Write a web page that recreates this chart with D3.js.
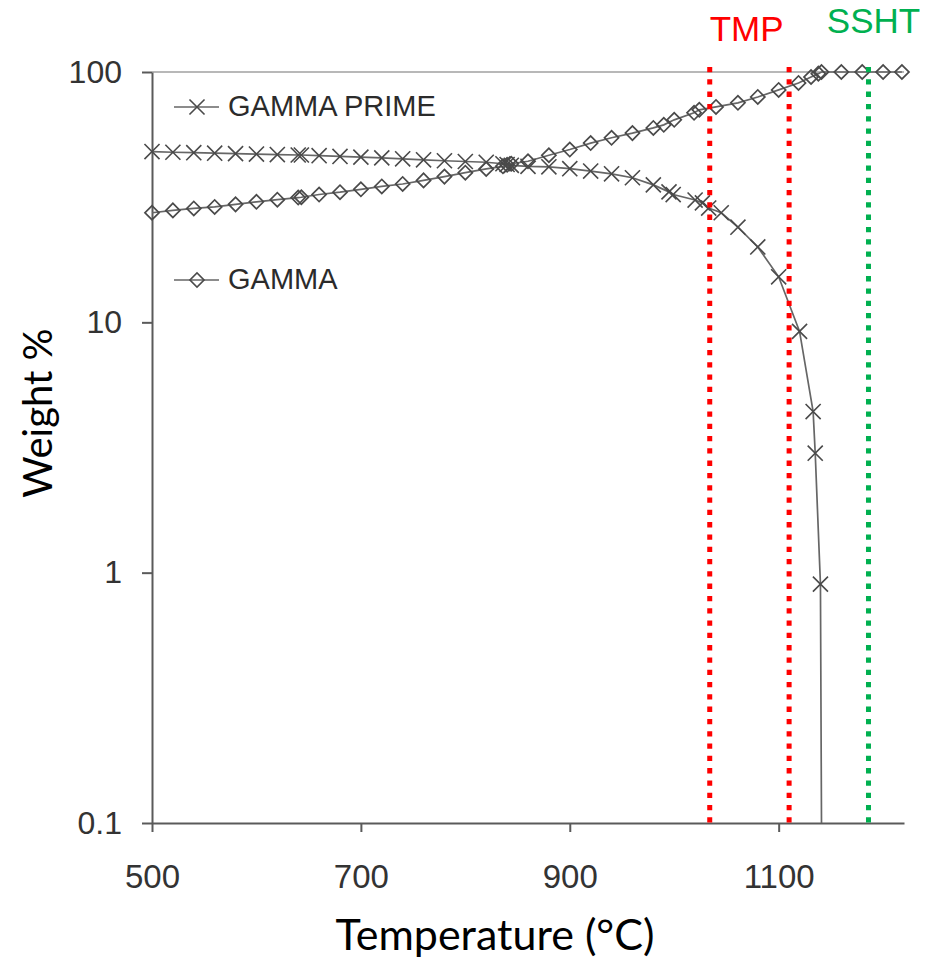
<!DOCTYPE html>
<html>
<head>
<meta charset="utf-8">
<script src="https://cdn.jsdelivr.net/npm/d3@7"></script>
<style>
  body { margin: 0; background: #fff; }
  svg { display: block; }
</style>
</head>
<body>
<svg id="chart"></svg>
<script>
// gamma prime (x markers)
const gpTemp = [500, 520, 540, 560, 580, 600, 620, 640, 643, 660, 680, 700, 720, 740, 760, 780, 800, 820, 836, 840, 844, 860, 880, 900, 920, 940, 960, 980, 995, 999, 1020, 1027, 1033, 1045, 1061, 1080, 1100, 1120, 1133, 1135, 1140, 1141];
const gpVal = [48.1, 47.8, 47.6, 47.4, 47.2, 47.0, 46.8, 46.6, 46.6, 46.3, 46.0, 45.7, 45.4, 45.0, 44.6, 44.2, 43.9, 43.6, 43.0, 42.7, 42.4, 42.0, 41.8, 41.1, 40.2, 39.2, 37.8, 35.4, 33.2, 32.4, 30.8, 30.0, 28.6, 27.4, 24.0, 20.0, 15.2, 9.2, 4.4, 3.0, 0.9, 0.1];
// last point of gamma prime is only the line end, no marker
const gpMarkerCount = gpTemp.length - 1;

// gamma (diamond markers)
const gTemp = [500, 520, 540, 560, 580, 600, 620, 640, 643, 660, 680, 700, 720, 740, 760, 780, 800, 820, 836, 840, 844, 860, 880, 900, 920, 940, 960, 980, 990, 1000, 1019, 1024, 1040, 1061, 1080, 1100, 1119, 1131, 1138, 1141, 1160, 1180, 1200, 1218];
const gVal = [27.4, 28.0, 28.5, 28.9, 29.6, 30.3, 30.9, 31.5, 31.6, 32.4, 33.1, 34.0, 34.9, 35.7, 36.9, 38.2, 39.6, 41.0, 42.0, 42.6, 43.0, 44.0, 46.5, 49.0, 52.0, 54.6, 57.0, 59.8, 61.5, 64.4, 68.7, 70.6, 72.5, 75.3, 79.5, 84.8, 90.4, 95.5, 98.5, 100, 100, 100, 100, 100];

const xTicks = [500, 700, 900, 1100];
const yTicks = [0.1, 1, 10, 100];
const tmpTemps = [1034, 1110];
const sshtTemp = 1186;

const width = 928, height = 961;
const x = d3.scaleLinear().domain([500, 1220]).range([152, 904]);
const y = d3.scaleLog().domain([0.1, 100]).range([823, 72]);

const svg = d3.select("#chart").attr("width", width).attr("height", height);

svg.append("defs").append("clipPath").attr("id", "plot")
  .append("rect")
  .attr("x", x(500) - 10).attr("y", y(100) - 10)
  .attr("width", x(1220) - x(500) + 30).attr("height", y(0.1) - y(100) + 10);

// top frame line
svg.append("line")
  .attr("x1", x(500)).attr("x2", x(1220))
  .attr("y1", y(100)).attr("y2", y(100))
  .attr("stroke", "#b8b8b8").attr("stroke-width", 2);

// axes
const xAxis = svg.append("g")
  .attr("transform", `translate(0,${y(0.1)})`)
  .call(d3.axisBottom(x).tickValues(xTicks).tickSize(9).tickSizeOuter(0).tickPadding(33).tickFormat(d3.format("d")));
const yAxis = svg.append("g")
  .attr("transform", `translate(${x(500)},0)`)
  .call(d3.axisLeft(y).tickValues(yTicks).tickSize(10).tickSizeOuter(0).tickPadding(20).tickFormat(d => String(d)));

[xAxis, yAxis].forEach(a => {
  a.select(".domain").attr("stroke", "#5a5a5a").attr("stroke-width", 2);
  a.selectAll(".tick line").attr("stroke", "#5a5a5a").attr("stroke-width", 2);
  a.selectAll(".tick text")
    .attr("fill", "#333")
    .style("font-family", "'Liberation Sans', Arial, sans-serif");
});
xAxis.selectAll(".tick text").style("font-size", "33px");
yAxis.selectAll(".tick text").style("font-size", "32px");

// series lines
const line = d3.line().x(d => x(d[0])).y(d => y(d[1]));
const gpData = gpTemp.map((t, i) => [t, gpVal[i]]);
const gData = gTemp.map((t, i) => [t, gVal[i]]);

const plot = svg.append("g").attr("clip-path", "url(#plot)");
plot.append("path").datum(gpData).attr("d", line)
  .attr("fill", "none").attr("stroke", "#666").attr("stroke-width", 1.7);
plot.append("path").datum(gData).attr("d", line)
  .attr("fill", "none").attr("stroke", "#666").attr("stroke-width", 1.7);

const cross = d3.symbol().type(d3.symbolX).size(150);
const diamond = d3.symbol().type(d3.symbolSquare).size(100);

plot.selectAll("path.gp").data(gpData.slice(0, gpMarkerCount)).join("path")
  .attr("class", "gp")
  .attr("d", cross)
  .attr("transform", d => `translate(${x(d[0])},${y(d[1])})`)
  .attr("fill", "none").attr("stroke", "#4a4a4a").attr("stroke-width", 1.6);
plot.selectAll("path.g").data(gData).join("path")
  .attr("class", "g")
  .attr("d", diamond)
  .attr("transform", d => `translate(${x(d[0])},${y(d[1])}) rotate(45)`)
  .attr("fill", "none").attr("stroke", "#4a4a4a").attr("stroke-width", 1.7);

// legend
const legend = [
  { name: "GAMMA PRIME", sym: cross, rot: 0, ly: 107 },
  { name: "GAMMA", sym: diamond, rot: 45, ly: 280 }
];
legend.forEach(l => {
  svg.append("line").attr("x1", 174).attr("x2", 219).attr("y1", l.ly).attr("y2", l.ly)
    .attr("stroke", "#666").attr("stroke-width", 1.7);
  svg.append("path").attr("d", l.sym)
    .attr("transform", `translate(197,${l.ly}) rotate(${l.rot})`)
    .attr("fill", "none").attr("stroke", "#4a4a4a").attr("stroke-width", 1.6);
  svg.append("text").attr("x", 228).attr("y", l.ly + 9)
    .attr("fill", "#2b2b2b")
    .style("font-family", "'Liberation Sans', Arial, sans-serif")
    .style("font-size", "29px")
    .text(l.name);
});

// reference temperature lines
tmpTemps.forEach(t => {
  svg.append("line").attr("x1", x(t)).attr("x2", x(t))
    .attr("y1", y(100) - 5).attr("y2", y(0.1))
    .attr("stroke", "#ff0000").attr("stroke-width", 5).attr("stroke-dasharray", "5.3 7");
});
svg.append("line").attr("x1", x(sshtTemp)).attr("x2", x(sshtTemp))
  .attr("y1", y(100) - 5).attr("y2", y(0.1))
  .attr("stroke", "#00b050").attr("stroke-width", 5).attr("stroke-dasharray", "5.3 7");

svg.append("text").attr("x", x(tmpTemps[0])).attr("y", 41)
  .attr("fill", "#ff0000")
  .style("font-family", "'Liberation Sans', Arial, sans-serif").style("font-size", "35px")
  .text("TMP");
svg.append("text").attr("x", x(sshtTemp) + 5).attr("y", 33).attr("text-anchor", "middle")
  .attr("fill", "#00b050")
  .style("font-family", "'Liberation Sans', Arial, sans-serif").style("font-size", "35px")
  .text("SSHT");

// axis titles
svg.append("text").attr("x", 495).attr("y", 950).attr("text-anchor", "middle")
  .attr("fill", "#000")
  .style("font-family", "Lato, 'Open Sans', sans-serif").style("font-size", "43px")
  .text("Temperature (°C)");
svg.append("text")
  .attr("transform", "translate(52,413) rotate(-90)")
  .attr("text-anchor", "middle")
  .attr("fill", "#000")
  .style("font-family", "Lato, 'Open Sans', sans-serif").style("font-size", "40px")
  .text("Weight %");
</script>
</body>
</html>
